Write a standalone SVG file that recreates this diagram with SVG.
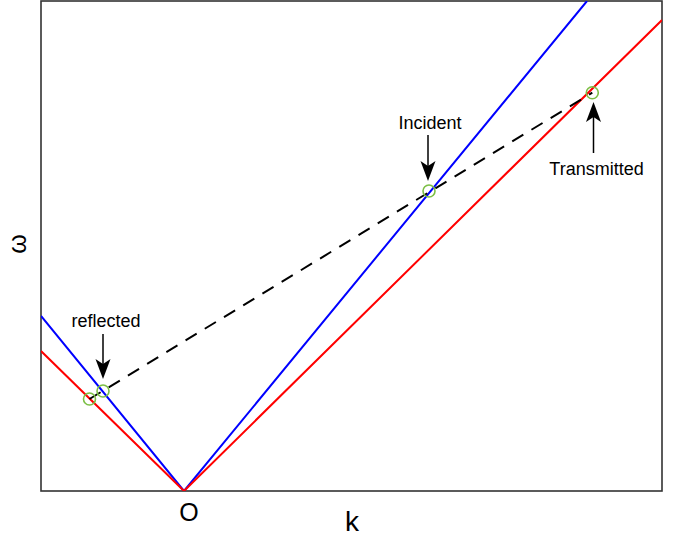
<svg xmlns="http://www.w3.org/2000/svg" width="679" height="539" viewBox="0 0 679 539">
<style>
.lbl{font-family:"Liberation Sans",Arial,sans-serif;fill:#000;text-anchor:middle}
.pt{fill:none;stroke:#7cbf45;stroke-width:1.6}
.arr{stroke:#000;stroke-width:1.5}
</style>
<defs>
<path id="headDown" d="M0,0 L-7.5,-20 L0,-15 L7.5,-20 Z" fill="#000"/>
<clipPath id="plot"><rect x="41" y="1" width="621" height="490"/></clipPath>
</defs>
<rect x="0" y="0" width="679" height="539" fill="#fff"/>
<g id="frame"><rect x="41" y="1" width="621" height="490" fill="none" stroke="#333" stroke-width="1.6"/></g>
<g id="connectors" clip-path="url(#plot)">
<polyline id="blue" points="41,316 184,491 587,1" fill="none" stroke="#0000ff" stroke-width="2"/>
<polyline id="red" points="41,351 184,491 662,20" fill="none" stroke="#ff0000" stroke-width="2"/>
<line id="dashed" x1="89.5" y1="399" x2="592.3" y2="92.7" stroke="#000" stroke-width="2" stroke-dasharray="13,9.5"/>
</g>
<g id="points">
<circle class="pt" cx="89.5" cy="399" r="6"/>
<circle class="pt" cx="103" cy="391" r="6"/>
<circle class="pt" cx="429" cy="191" r="6"/>
<circle class="pt" cx="592.3" cy="92.7" r="6"/>
</g>
<g id="reflected">
<text class="lbl" x="106" y="327" font-size="18">reflected</text>
<line class="arr" x1="103" y1="334" x2="103" y2="366"/>
<use href="#headDown" transform="translate(103,379)"/>
</g>
<g id="incident">
<text class="lbl" x="430" y="129" font-size="18">Incident</text>
<line class="arr" x1="428" y1="135" x2="428" y2="168"/>
<use href="#headDown" transform="translate(428,181)"/>
</g>
<g id="transmitted">
<text class="lbl" x="596.5" y="175" font-size="18">Transmitted</text>
<line class="arr" x1="593.5" y1="153" x2="593.5" y2="116"/>
<use href="#headDown" transform="translate(593.5,102) rotate(180)"/>
</g>
<g id="axes-labels">
<text class="lbl" x="189" y="521" font-size="25">O</text>
<text class="lbl" x="352" y="531" font-size="28">k</text>
<text class="lbl" transform="translate(26,244) rotate(-90)" x="0" y="0" font-size="25">ω</text>
</g>
</svg>
